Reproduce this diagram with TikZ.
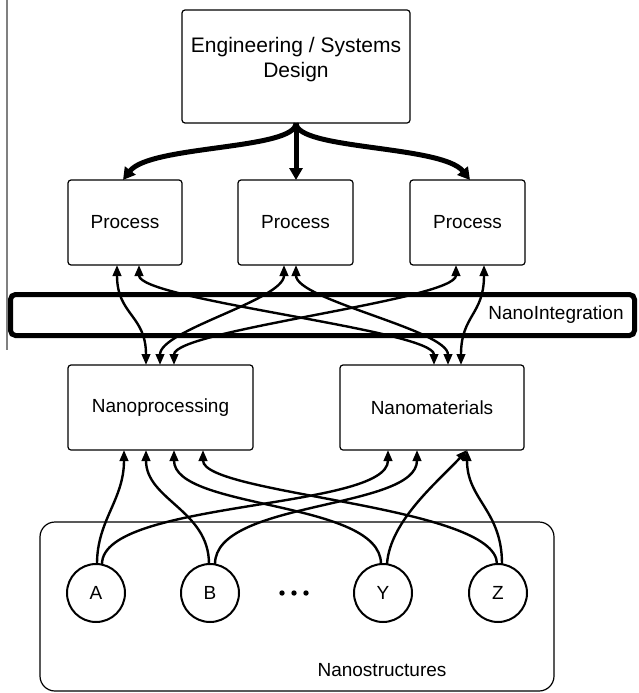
\documentclass[tikz,border=0pt]{standalone}
\usepackage{fontspec}
\setmainfont{Liberation Sans}
\usetikzlibrary{arrows.meta}
\begin{document}
\begin{tikzpicture}[x=1pt,y=-1pt,
  box/.style={draw, rounded corners=3pt, line width=1.2pt, inner sep=0pt, font=\fontsize{19}{23}\selectfont},
  lbl/.style={inner sep=0pt, font=\fontsize{19}{23}\selectfont},
  ball/.style={draw, circle, line width=2pt, minimum size=58pt, inner sep=0pt, font=\fontsize{19}{23}\selectfont},
  bigarrow/.style={line width=5pt, -{Triangle[length=12pt,width=13pt]}},
  biarrow/.style={line width=2.4pt, {Triangle[length=11pt,width=8.5pt]}-{Triangle[length=11pt,width=8.5pt]}},
  uparrow/.style={line width=2.4pt, -{Triangle[length=11pt,width=8.5pt]}},
  dotfill/.style={fill=black}]
\useasboundingbox (0,0) rectangle (638,693);

% left rule
\coordinate (lt) at (7.3,0);
\coordinate (lb) at (7.3,350);
\draw[gray, line width=2pt] (lt) -- (lb);

% boxes
\node[box, minimum width=228pt, minimum height=113pt] (eng) at (296,66.5) {};
\node[lbl, font=\fontsize{21}{25}\selectfont, align=center] (engt) at (296,59.5) {Engineering / Systems\\Design};
\node[box, minimum width=114pt, minimum height=85pt] (p1) at (125,222.5) {Process};
\node[box, minimum width=115pt, minimum height=85pt] (p2) at (295.5,222.5) {Process};
\node[box, minimum width=115pt, minimum height=85pt] (p3) at (467.5,222.5) {Process};

\node[draw, line width=5pt, rounded corners=5pt, inner sep=0pt, minimum width=624pt, minimum height=41pt] (bar) at (322.5,315) {};
\node[lbl] (bart) at (556,315) {NanoIntegration};

\node[box, minimum width=185pt, minimum height=85pt] (np) at (160.5,407.5) {Nanoprocessing};
\node[box, minimum width=184pt, minimum height=85pt] (nm) at (432,407.5) {Nanomaterials};

\node[draw, rounded corners=15pt, line width=1.2pt, inner sep=0pt, minimum width=514pt, minimum height=169pt] (ns) at (297,606.5) {};
\node[lbl] (nst) at (382,670) {Nanostructures};

\node[ball] (a) at (96,593) {A};
\node[ball] (b) at (210,593) {B};
\node[ball] (y) at (383,593) {Y};
\node[ball] (z) at (498,593) {Z};
\fill[dotfill] (282,593) circle (2.7pt) (294,593) circle (2.7pt) (306,593) circle (2.7pt);

% ports
\coordinate (engb) at (296,123);
\coordinate (p1t) at (123,180);
\coordinate (p2t) at (296,180);
\coordinate (p3t) at (470,180);
\coordinate (p1a) at (117,265);
\coordinate (p1b) at (139,265);
\coordinate (p2a) at (284,265);
\coordinate (p2b) at (296,265);
\coordinate (p3a) at (456,265);
\coordinate (p3b) at (484,265);
\coordinate (npt1) at (146,365);
\coordinate (npt2) at (160,365);
\coordinate (npt3) at (174,365);
\coordinate (nmt1) at (434,365);
\coordinate (nmt2) at (448,365);
\coordinate (nmt3) at (461,365);
\coordinate (npb1) at (124,450);
\coordinate (npb2) at (146,450);
\coordinate (npb3) at (174,450);
\coordinate (npb4) at (203,450);
\coordinate (nmb1) at (388,450);
\coordinate (nmb2) at (417,450);
\coordinate (nmb3) at (467,450);
\coordinate (a1) at (97,564);
\coordinate (a2) at (102,564);
\coordinate (b1) at (209,564);
\coordinate (b2) at (215,564);
\coordinate (y1) at (381,564);
\coordinate (y2) at (387,564);
\coordinate (z1) at (497,564);
\coordinate (z2) at (502,564);

% design to processes
\draw[bigarrow] (engb) .. controls (296,150) and (150,145) .. (p1t);
\draw[bigarrow] (engb) -- (p2t);
\draw[bigarrow] (engb) .. controls (296,150) and (442,145) .. (p3t);

% processes <-> nano boxes
\draw[biarrow] (p1a) .. controls (117,315) and (146,315) .. (npt1);
\draw[biarrow] (p1b) .. controls (139,300) and (434,330) .. (nmt1);
\draw[biarrow] (p2a) .. controls (284,300) and (160,330) .. (npt2);
\draw[biarrow] (p2b) .. controls (296,300) and (448,330) .. (nmt2);
\draw[biarrow] (p3a) .. controls (456,300) and (174,330) .. (npt3);
\draw[biarrow] (p3b) .. controls (484,315) and (461,315) .. (nmt3);

% nanostructures to nano boxes
\draw[uparrow] (a1) .. controls (97,520) and (124,500) .. (npb1);
\draw[uparrow] (a2) .. controls (102,500) and (388,510) .. (nmb1);
\draw[uparrow] (b1) .. controls (209,510) and (146,500) .. (npb2);
\draw[uparrow] (b2) .. controls (215,500) and (417,510) .. (nmb2);
\draw[uparrow] (y1) .. controls (381,500) and (174,510) .. (npb3);
\draw[uparrow] (y2) .. controls (390,520) and (440,480) .. (nmb3);
\draw[uparrow] (z1) .. controls (497,505) and (203,495) .. (npb4);
\draw[uparrow] (z2) .. controls (502,510) and (467,500) .. (nmb3);
\end{tikzpicture}
\end{document}
